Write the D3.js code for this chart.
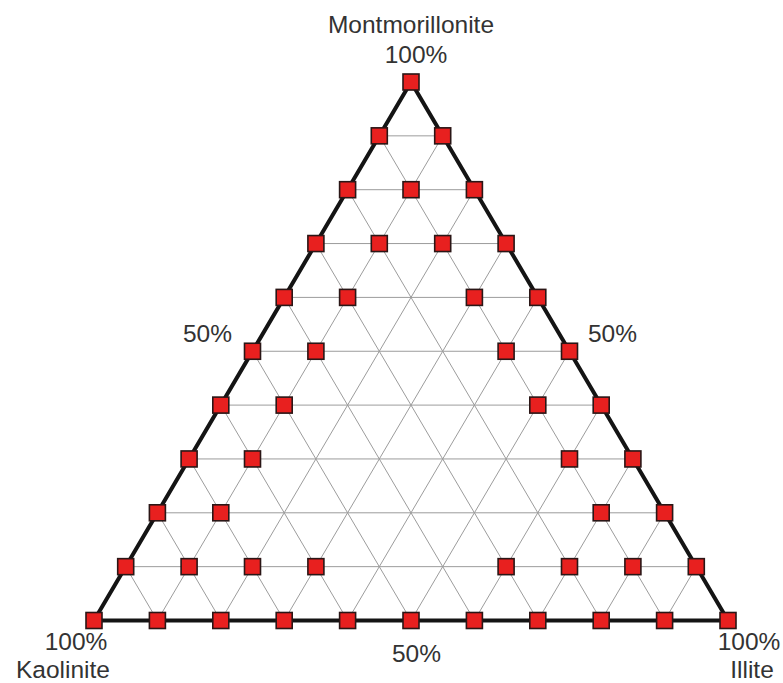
<!DOCTYPE html>
<html>
<head>
<meta charset="utf-8">
<script src="https://cdn.jsdelivr.net/npm/d3@7"></script>
<style>
  body { margin: 0; background: #fff; }
  svg text { font-family: "Liberation Sans", Arial, sans-serif; fill: #333; font-size: 24.5px; }
</style>
</head>
<body>
<script>
// Sample compositions, percent (kaolinite + illite + montmorillonite = 100)
var montmorillonite = [100,
  90, 90,
  80, 80, 80,
  70, 70, 70, 70,
  60, 60, 60, 60,
  50, 50, 50, 50,
  40, 40, 40, 40,
  30, 30, 30, 30,
  20, 20, 20, 20,
  10, 10, 10, 10, 10, 10, 10, 10,
  0, 0, 0, 0, 0, 0, 0, 0, 0, 0, 0];
var illite = [0,
  0, 10,
  0, 10, 20,
  0, 10, 20, 30,
  0, 10, 30, 40,
  0, 10, 40, 50,
  0, 10, 50, 60,
  0, 10, 60, 70,
  0, 10, 70, 80,
  0, 10, 20, 30, 60, 70, 80, 90,
  0, 10, 20, 30, 40, 50, 60, 70, 80, 90, 100];
var kaolinite = montmorillonite.map(function(m, i) { return 100 - m - illite[i]; });

var gridSteps = [10, 20, 30, 40, 50, 60, 70, 80, 90];

var cornerLabels = [
  ["Montmorillonite", "100%"],
  ["100%", "Kaolinite"],
  ["100%", "Illite"]
];
var midLabels = ["50%", "50%", "50%"];

//--------------------------------------
// Layout
//--------------------------------------

var width = 783, height = 683;

var svg = d3.select("body").append("svg")
  .attr("width", width)
  .attr("height", height);

// x runs along the base (kaolinite -> illite), y up to montmorillonite
var xScale = d3.scaleLinear().domain([0, 100]).range([94, 728]);
var yScale = d3.scaleLinear().domain([0, 100]).range([620.5, 82]);

function px(k, i, m) { return xScale(i + m / 2); }
function py(k, i, m) { return yScale(m); }

var g = svg.append("g");

// Grid lines: constant montmorillonite, constant illite, constant kaolinite
var gridLines = [];
gridSteps.forEach(function(v) {
  gridLines.push([[100 - v, 0, v], [0, 100 - v, v]]);
  gridLines.push([[100 - v, v, 0], [0, v, 100 - v]]);
  gridLines.push([[v, 100 - v, 0], [v, 0, 100 - v]]);
});

g.selectAll(".grid")
  .data(gridLines)
  .enter().append("line")
  .attr("class", "grid")
  .attr("x1", function(d) { return px.apply(null, d[0]); })
  .attr("y1", function(d) { return py.apply(null, d[0]); })
  .attr("x2", function(d) { return px.apply(null, d[1]); })
  .attr("y2", function(d) { return py.apply(null, d[1]); })
  .attr("stroke", "#9c9c9c")
  .attr("stroke-width", 1);

// Outline
var outline = [[100, 0, 0], [0, 100, 0], [0, 0, 100]];
g.append("path")
  .attr("d", d3.line()
    .x(function(d) { return px.apply(null, d); })
    .y(function(d) { return py.apply(null, d); })
    .curve(d3.curveLinearClosed)(outline))
  .attr("fill", "none")
  .attr("stroke", "#141414")
  .attr("stroke-width", 4)
  .attr("stroke-linejoin", "miter");

// Sample squares
var size = 16;
g.selectAll(".pt")
  .data(montmorillonite.map(function(m, j) { return [kaolinite[j], illite[j], m]; }))
  .enter().append("rect")
  .attr("class", "pt")
  .attr("x", function(d) { return px.apply(null, d) - size / 2; })
  .attr("y", function(d) { return py.apply(null, d) - size / 2; })
  .attr("width", size)
  .attr("height", size)
  .attr("fill", "#e8201f")
  .attr("stroke", "#2a1616")
  .attr("stroke-width", 1.6);

//--------------------------------------
// Labels
//--------------------------------------

var labelTop = cornerLabels[0], labelLeft = cornerLabels[1], labelRight = cornerLabels[2];

svg.append("text").attr("x", px(0, 0, 100)).attr("y", 33)
  .attr("text-anchor", "middle").text(labelTop[0]);
svg.append("text").attr("x", px(0, 0, 100) + 5).attr("y", 62.5)
  .attr("text-anchor", "middle").text(labelTop[1]);

svg.append("text").attr("x", 76).attr("y", 650)
  .attr("text-anchor", "middle").text(labelLeft[0]);
svg.append("text").attr("x", 63).attr("y", 677.5)
  .attr("text-anchor", "middle").text(labelLeft[1]);

svg.append("text").attr("x", 749).attr("y", 650)
  .attr("text-anchor", "middle").text(labelRight[0]);
svg.append("text").attr("x", 752).attr("y", 677.5)
  .attr("text-anchor", "middle").text(labelRight[1]);

svg.append("text").attr("x", 207.5).attr("y", 341.5)
  .attr("text-anchor", "middle").text(midLabels[0]);
svg.append("text").attr("x", 612.5).attr("y", 341.5)
  .attr("text-anchor", "middle").text(midLabels[1]);
svg.append("text").attr("x", 416.5).attr("y", 661.5)
  .attr("text-anchor", "middle").text(midLabels[2]);
</script>
</body>
</html>
